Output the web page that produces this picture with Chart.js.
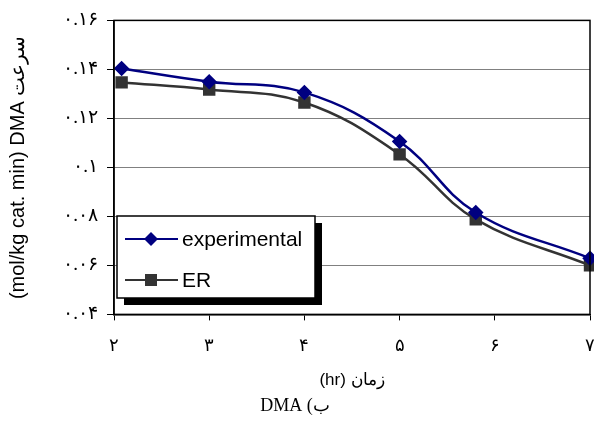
<!DOCTYPE html>
<html>
<head>
<meta charset="utf-8">
<script src="https://cdn.jsdelivr.net/npm/chart.js@4/dist/chart.umd.min.js"></script>
<style>
  html, body { margin: 0; padding: 0; background: #fff; }
  #wrap { width: 594px; height: 423px; }
</style>
</head>
<body>
<div id="wrap"><canvas id="chart"></canvas></div>
<script>
// ── Data ─────────────────────────────────────────────────────────────────────

const TIME_HR      = [2.08, 3, 4, 5, 5.8, 7];
const EXPERIMENTAL = [0.1404, 0.135, 0.1306, 0.1106, 0.0816, 0.0629];
const ER           = [0.1347, 0.1318, 0.1265, 0.1053, 0.0788, 0.0600];

const X_TICKS = { 2: '۲', 3: '۳', 4: '۴', 5: '۵', 6: '۶', 7: '۷' };
const Y_TICKS = { '0.04': '۰.۰۴', '0.06': '۰.۰۶', '0.08': '۰.۰۸', '0.1': '۰.۱',
                  '0.12': '۰.۱۲', '0.14': '۰.۱۴', '0.16': '۰.۱۶' };

const C_EXP   = '#000080';
const C_ER    = '#333333';
const C_GRID  = '#808080';
const SERIF   = '"Liberation Serif", "DejaVu Serif", serif';
const SANS    = '"Liberation Sans", Arial, sans-serif';

// ── Plugins ──────────────────────────────────────────────────────────────────

// black frame round the plot area
const frame = {
  id: 'frame',
  afterDatasetsDraw(chart) {
    const { ctx, chartArea: a } = chart;
    ctx.save();
    ctx.strokeStyle = '#000';
    ctx.lineWidth = 1.5;
    ctx.strokeRect(a.left, a.top, a.right - a.left, a.bottom - a.top);
    ctx.restore();
  }
};

// legend box inside the plot, with a black drop shadow
const boxLegend = {
  id: 'boxLegend',
  afterDraw(chart) {
    const { ctx } = chart;
    const x = 117, y = 216, w = 198, h = 82, sh = 7;
    ctx.save();
    ctx.fillStyle = '#000';
    ctx.fillRect(x + sh, y + sh, w, h);
    ctx.fillStyle = '#fff';
    ctx.fillRect(x, y, w, h);
    ctx.strokeStyle = '#000';
    ctx.lineWidth = 1.5;
    ctx.strokeRect(x, y, w, h);

    ctx.font = '21px ' + SANS;
    ctx.textBaseline = 'middle';
    chart.data.datasets.forEach((ds, i) => {
      const ly = y + 23 + i * 41;
      ctx.strokeStyle = ds.borderColor;
      ctx.lineWidth = 2;
      ctx.beginPath();
      ctx.moveTo(x + 8, ly);
      ctx.lineTo(x + 61, ly);
      ctx.stroke();
      ctx.fillStyle = ds.pointBackgroundColor;
      ctx.beginPath();
      if (ds.pointStyle === 'rectRot') {
        ctx.moveTo(x + 34, ly - 7); ctx.lineTo(x + 41, ly);
        ctx.lineTo(x + 34, ly + 7); ctx.lineTo(x + 27, ly);
      } else {
        ctx.rect(x + 28, ly - 6, 12, 12);
      }
      ctx.closePath();
      ctx.fill();
      ctx.fillStyle = '#000';
      ctx.fillText(ds.label, x + 65, ly + 1);
    });
    ctx.restore();
  }
};

// ── Chart ────────────────────────────────────────────────────────────────────

new Chart(document.getElementById('chart'), {
  type: 'line',
  data: {
    datasets: [
      {
        label: 'experimental',
        data: TIME_HR.map((t, i) => ({ x: t, y: EXPERIMENTAL[i] })),
        borderColor: C_EXP,
        backgroundColor: C_EXP,
        pointBackgroundColor: C_EXP,
        pointBorderColor: C_EXP,
        pointStyle: 'rectRot',
        pointRadius: 6,
        borderWidth: 2.5,
        tension: 0.4,
        clip: false,
      },
      {
        label: 'ER',
        data: TIME_HR.map((t, i) => ({ x: t, y: ER[i] })),
        borderColor: C_ER,
        backgroundColor: C_ER,
        pointBackgroundColor: C_ER,
        pointBorderColor: C_ER,
        pointStyle: 'rect',
        pointRadius: 7,
        borderWidth: 2.5,
        tension: 0.4,
        clip: false,
      },
    ]
  },
  options: {
    responsive: true,
    maintainAspectRatio: false,
    animation: false,
    layout: { autoPadding: false, padding: { top: 20, right: 4, left: 0, bottom: 0 } },
    plugins: {
      legend: { display: false },
      tooltip: { enabled: false },
      title: {
        display: true,
        position: 'bottom',
        text: 'DMA (ب',
        color: '#000',
        font: { family: SERIF, size: 18, weight: 'normal' },
        padding: { top: 5, bottom: 6 },
      },
    },
    scales: {
      x: {
        type: 'linear',
        min: 2, max: 7,
        afterFit: s => { s.height = 76; s.paddingLeft = 0; s.paddingRight = 0; },
        ticks: {
          stepSize: 1,
          color: '#000',
          padding: 15,
          font: { family: SERIF, size: 18 },
          callback: v => X_TICKS[v] || '',
        },
        grid: { drawOnChartArea: false, drawTicks: true, tickLength: 6, color: '#000' },
        border: { color: '#000', width: 1.5 },
        title: {
          display: true,
          text: '(hr) زمان',
          color: '#000',
          font: { family: SANS, size: 17 },
          padding: { top: 4, bottom: 0 },
        },
      },
      y: {
        min: 0.04, max: 0.16,
        afterFit: s => { s.width = 114; },
        ticks: {
          stepSize: 0.02,
          color: '#000',
          padding: 9,
          font: { family: SERIF, size: 19 },
          callback: v => Y_TICKS[String(+v.toFixed(2))] || '',
        },
        grid: { color: C_GRID, tickLength: 7, tickColor: '#000', lineWidth: 1 },
        border: { color: '#000', width: 1.5 },
        title: {
          display: true,
          text: '(mol/kg cat. min) DMA سرعت',
          color: '#000',
          font: { family: SANS, size: 20 },
          padding: { top: 6, bottom: 0 },
        },
      },
    },
  },
  plugins: [frame, boxLegend],
});
</script>
</body>
</html>
